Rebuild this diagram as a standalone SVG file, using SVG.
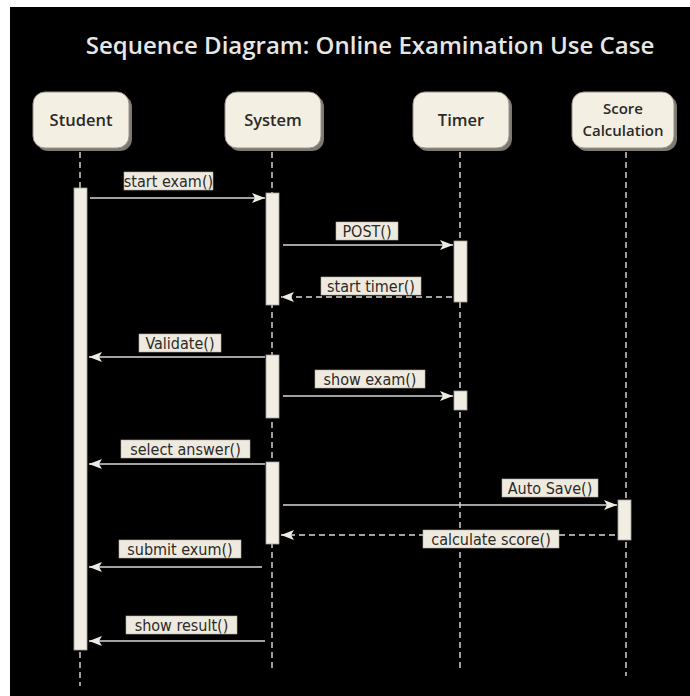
<svg xmlns="http://www.w3.org/2000/svg" width="690" height="696" viewBox="0 0 690 696">
<defs>
<marker id="ah" markerWidth="14" markerHeight="10" refX="13" refY="5" orient="auto" markerUnits="userSpaceOnUse">
<path d="M0,0 L13,5 L0,10 L3,5 Z" fill="#efebe2"/>
</marker>
</defs>
<style>
.bg{fill:#000}
.shadow{fill:#7d7972}
.box{fill:#f4efe3;stroke:#9a958c;stroke-width:1}
.ntxt{font-family:"Open Sans","DejaVu Sans",sans-serif;font-size:16.5px;font-weight:600;fill:#2b2a28;text-anchor:middle}
.stxt{font-family:"Open Sans","DejaVu Sans",sans-serif;font-size:15px;font-weight:600;fill:#2b2a28;text-anchor:middle}
.title{font-family:"Open Sans","DejaVu Sans",sans-serif;font-size:24px;font-weight:600;fill:#e6e6e6;text-anchor:middle}
.life{stroke:#cfcfcf;stroke-width:1.5;stroke-dasharray:6,4;fill:none}
.act{fill:#f2ede2;stroke:#a8a49c;stroke-width:0.8}
.msg{stroke:#d9d9d9;stroke-width:1.5;fill:none;marker-end:url(#ah)}
.ret{stroke:#d9d9d9;stroke-width:1.5;stroke-dasharray:6,4;fill:none;marker-end:url(#ah)}
.lbg{fill:#efeadf;stroke:#b5b0a6;stroke-width:0.6}
.ltxt{font-family:"DejaVu Sans Condensed","DejaVu Sans",sans-serif;font-size:16px;fill:#2b2a28;text-anchor:middle}
</style>
<rect x="0" y="0" width="690" height="696" fill="#fff"/>
<rect class="bg" x="10" y="7" width="680" height="689"/>
<text class="title" x="370" y="54">Sequence Diagram: Online Examination Use Case</text>

<g id="lifelines">
<line class="life" x1="80" y1="152" x2="80" y2="686"/>
<line class="life" x1="272" y1="152" x2="272" y2="672"/>
<line class="life" x1="460" y1="152" x2="460" y2="672"/>
<line class="life" x1="626" y1="152" x2="626" y2="676"/>
</g>

<g id="student">
<rect class="shadow" x="36" y="95" width="96" height="56" rx="12"/>
<rect class="box" x="33" y="92" width="96" height="56" rx="12"/>
<text class="ntxt" x="81" y="126">Student</text>
</g>
<g id="system">
<rect class="shadow" x="228" y="95" width="96" height="56" rx="12"/>
<rect class="box" x="225" y="92" width="96" height="56" rx="12"/>
<text class="ntxt" x="273" y="126">System</text>
</g>
<g id="timer">
<rect class="shadow" x="416" y="95" width="96" height="56" rx="12"/>
<rect class="box" x="413" y="92" width="96" height="56" rx="12"/>
<text class="ntxt" x="461" y="126">Timer</text>
</g>
<g id="score">
<rect class="shadow" x="575" y="95" width="102" height="56" rx="12"/>
<rect class="box" x="572" y="92" width="102" height="56" rx="12"/>
<text class="stxt" x="623" y="114">Score</text>
<text class="stxt" x="623" y="136">Calculation</text>
</g>

<g id="activations">
<rect class="act" x="74" y="188" width="13" height="462"/>
<rect class="act" x="266" y="193" width="13" height="112"/>
<rect class="act" x="454" y="241" width="13" height="61"/>
<rect class="act" x="266" y="355" width="13" height="63"/>
<rect class="act" x="454" y="391" width="13" height="19"/>
<rect class="act" x="266" y="462" width="13" height="82"/>
<rect class="act" x="618" y="500" width="13" height="40"/>
</g>

<g id="connectors">
<line class="msg" x1="90" y1="198" x2="265" y2="198"/>
<line class="msg" x1="283" y1="245" x2="453" y2="245"/>
<line class="ret" x1="452" y1="297" x2="281" y2="297"/>
<line class="msg" x1="265" y1="357" x2="89" y2="357"/>
<line class="msg" x1="283" y1="396" x2="453" y2="396"/>
<line class="msg" x1="265" y1="464" x2="89" y2="464"/>
<line class="msg" x1="283" y1="505" x2="617" y2="505"/>
<line class="ret" x1="615" y1="535" x2="281" y2="535"/>
<line class="msg" x1="262" y1="567" x2="89" y2="567"/>
<line class="msg" x1="265" y1="641" x2="89" y2="641"/>
</g>

<g id="labels">
<rect class="lbg" x="124" y="172" width="89" height="18"/>
<text class="ltxt" x="168.5" y="186.5">start exam()</text>
<rect class="lbg" x="336" y="222" width="62" height="18"/>
<text class="ltxt" x="367" y="236.5">POST()</text>
<rect class="lbg" x="321" y="277" width="100" height="18"/>
<text class="ltxt" x="371" y="291.5">start timer()</text>
<rect class="lbg" x="139" y="334" width="82" height="18"/>
<text class="ltxt" x="180" y="348.5">Validate()</text>
<rect class="lbg" x="315" y="370" width="110" height="18"/>
<text class="ltxt" x="370" y="384.5">show exam()</text>
<rect class="lbg" x="121" y="440" width="129" height="18"/>
<text class="ltxt" x="185.5" y="454.5">select answer()</text>
<rect class="lbg" x="502" y="479" width="96" height="18"/>
<text class="ltxt" x="550" y="493.5">Auto Save()</text>
<rect class="lbg" x="423" y="530" width="136" height="18"/>
<text class="ltxt" x="491" y="544.5">calculate score()</text>
<rect class="lbg" x="119" y="540" width="122" height="18"/>
<text class="ltxt" x="180" y="554.5">submit exum()</text>
<rect class="lbg" x="126" y="616" width="111" height="18"/>
<text class="ltxt" x="181.5" y="630.5">show result()</text>
</g>
</svg>
